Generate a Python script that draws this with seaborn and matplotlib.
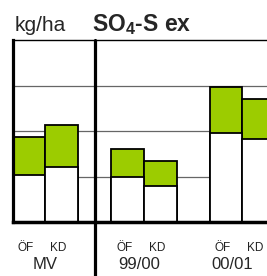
import numpy as np
import pandas as pd
import matplotlib
matplotlib.use("Agg")
import matplotlib.pyplot as plt
import seaborn as sns

# values (kg/ha)
groups = ["MV", "99/00", "00/01"]
sub_labels = ["ÖF", "KD"]
white_part = [1.03, 1.22, 1.00, 0.79, 1.97, 1.83]   # lower (white) segment
total = [1.87, 2.14, 1.62, 1.35, 2.98, 2.71]        # top of green segment
y_grid = [1, 2, 3]

sns.set_style("white")
plt.rcParams["font.family"] = ["Liberation Sans", "DejaVu Sans"]
plt.rcParams["mathtext.fontset"] = "custom"
plt.rcParams["mathtext.bf"] = "Liberation Sans:bold"
plt.rcParams["mathtext.rm"] = "Liberation Sans"

green = "#9ccc00"

# two bars per group, one empty slot between groups
pos = []
for g in range(len(groups)):
    pos += [3 * g + 0.5, 3 * g + 1.5]
df = pd.DataFrame({"x": pos, "white": white_part, "total": total})

fig = plt.figure(figsize=(2.67, 2.76), dpi=100)
ax = fig.add_axes([0.047, 0.194, 0.953, 0.661])

for yv in y_grid:
    ax.axhline(yv, color="#666666", lw=0.9, zorder=0)

sns.barplot(data=df, x="x", y="total", native_scale=True, width=1,
            color=green, saturation=1, edgecolor="black", linewidth=1.3,
            errorbar=None, ax=ax, zorder=2)
sns.barplot(data=df, x="x", y="white", native_scale=True, width=1,
            color="white", saturation=1, edgecolor="black", linewidth=1.3,
            errorbar=None, ax=ax, zorder=3)

ax.set_xlim(0, 7.75)
ax.set_ylim(0, 4)
ax.set_xticks([])
ax.set_yticks([])
ax.set_xlabel("")
ax.set_ylabel("")

for s in ["left", "bottom", "top"]:
    ax.spines[s].set_visible(True)
    ax.spines[s].set_color("black")
ax.spines["right"].set_visible(False)
ax.spines["left"].set_linewidth(2.3)
ax.spines["bottom"].set_linewidth(2.5)
ax.spines["top"].set_linewidth(1.0)
for s in ax.spines.values():
    s.set_zorder(5)

# thick separator between mean and the years, runs down past the axis
ax.plot([2.5, 2.5], [4, -1.2], color="black", lw=2.3, clip_on=False, zorder=6)

# labels under the bars
for i, x in enumerate(pos):
    ax.text(x - 0.1, -0.55, sub_labels[i % 2], ha="center", va="center",
            fontsize=8.5, color="#222222")
for g, name in enumerate(groups):
    ax.text(3 * g + 1 - 0.15 * g, -0.93, name, ha="center", va="center",
            fontsize=12)

fig.text(0.056, 0.888, "kg/ha", fontsize=15, va="baseline")
fig.text(0.345, 0.888, r"SO$_\mathbf{4}$-S ex", fontsize=16.5,
         fontweight="bold", va="baseline")

fig.savefig("out.png", dpi=100)
